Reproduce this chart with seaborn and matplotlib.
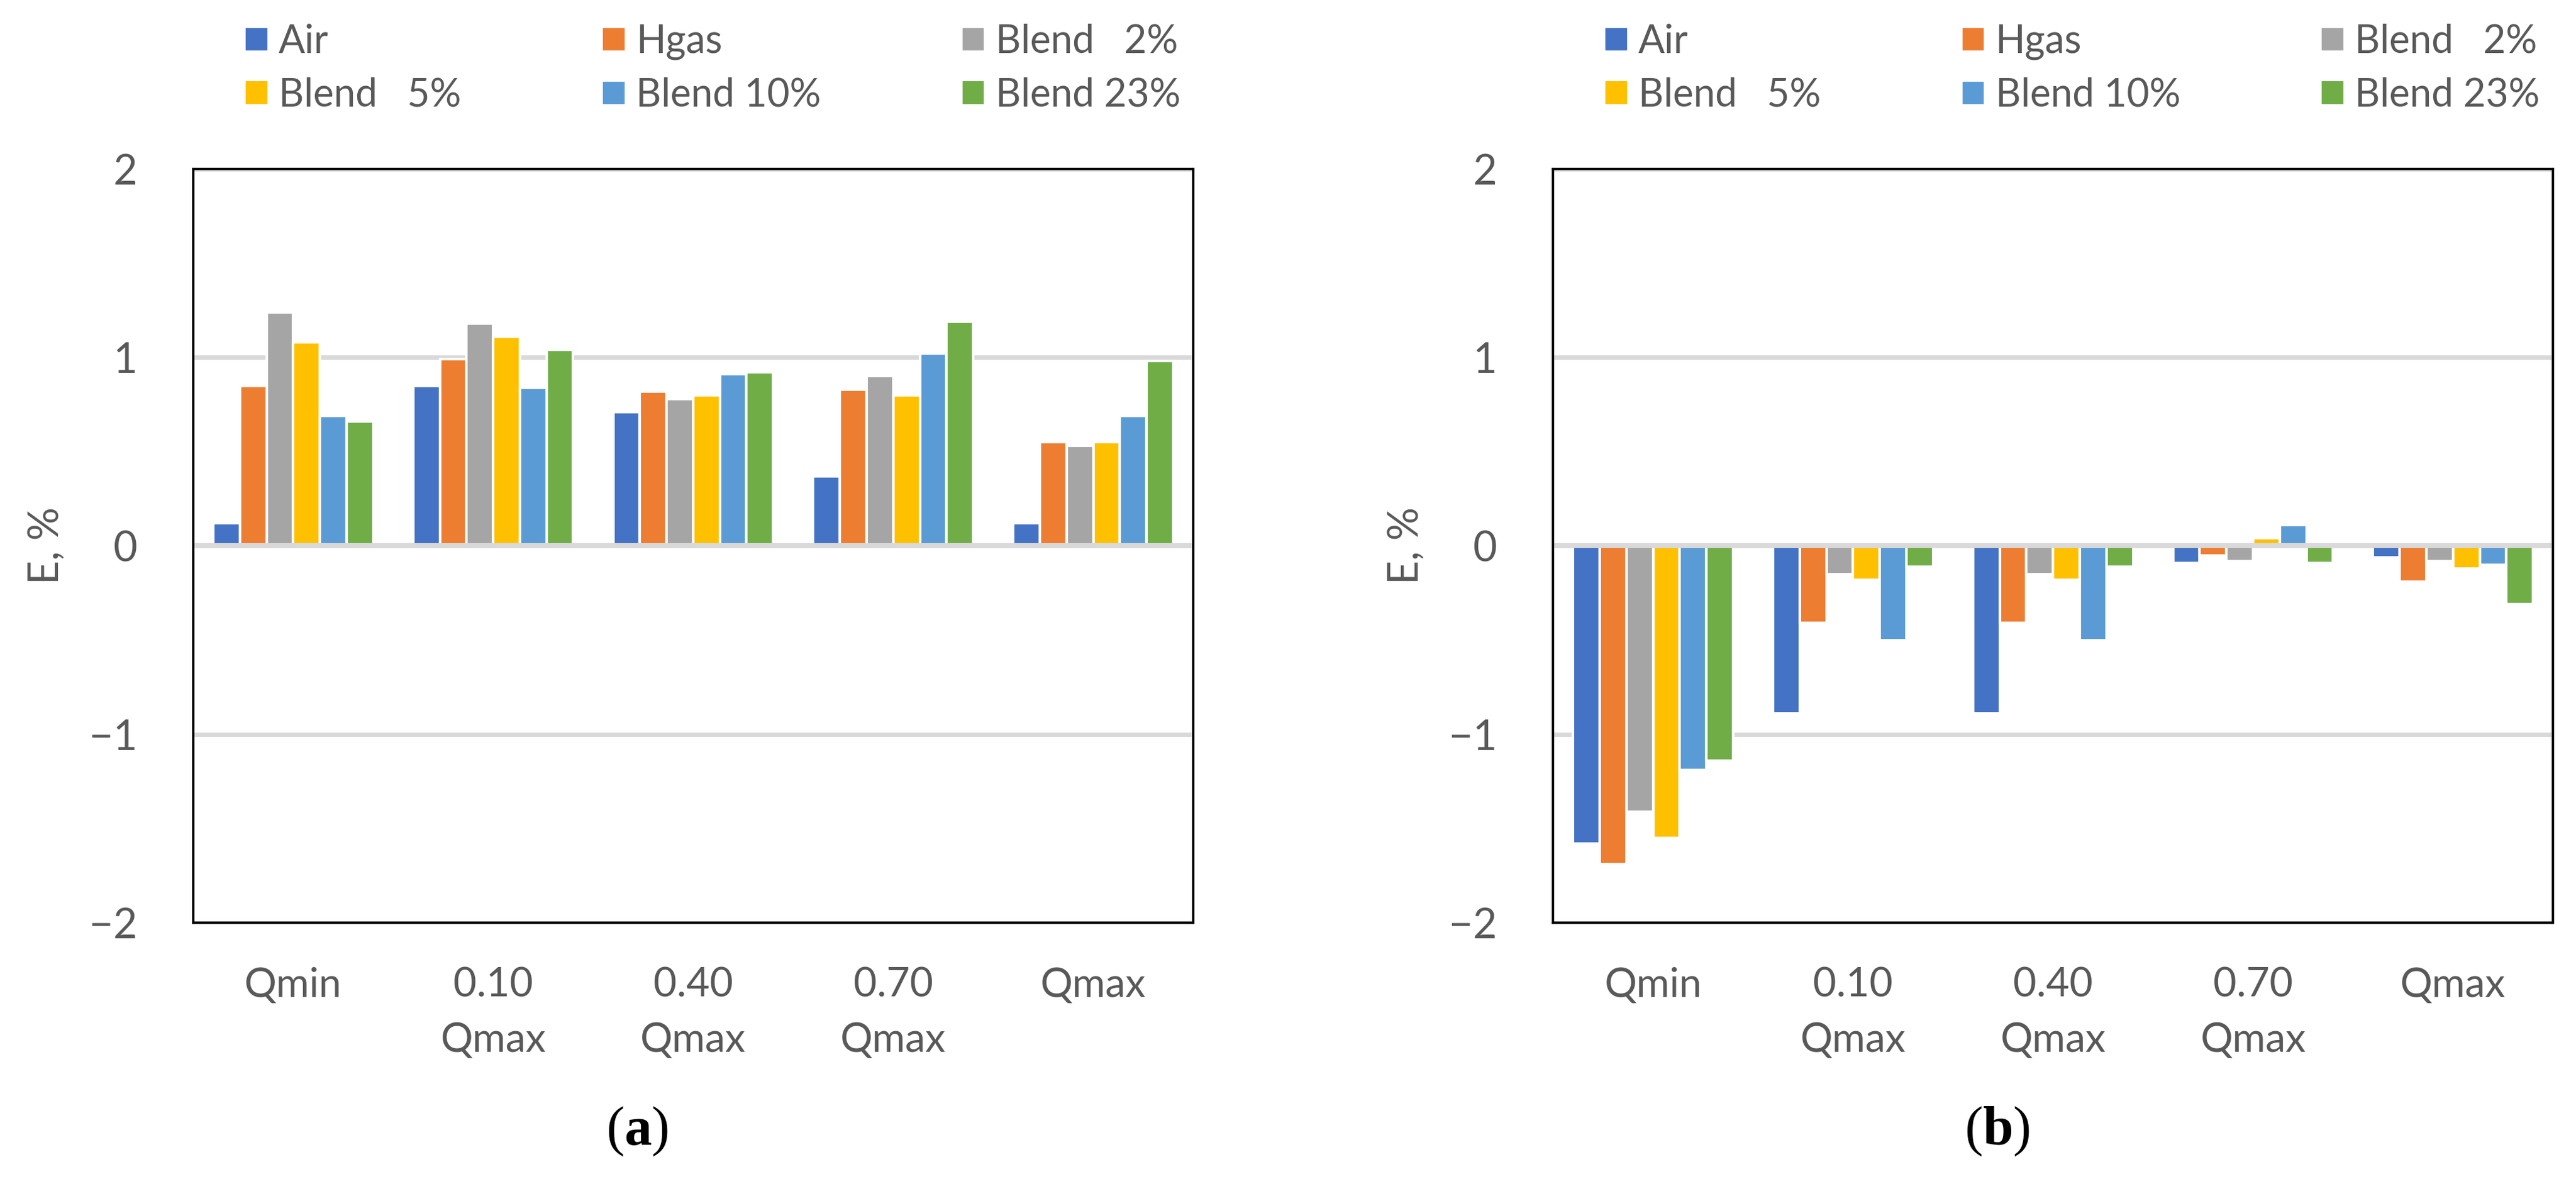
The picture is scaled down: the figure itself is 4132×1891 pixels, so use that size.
import numpy as np
import pandas as pd
import matplotlib.pyplot as plt
import seaborn as sns

# -----------------------------
# Data
# -----------------------------
flow_points = ["Qmin", "0.10\nQmax", "0.40\nQmax", "0.70\nQmax", "Qmax"]
series = ["Air", "Hgas", "Blend   2%", "Blend   5%", "Blend 10%", "Blend 23%"]
colors = ["#4472C4", "#ED7D31", "#A5A5A5", "#FFC000", "#5B9BD5", "#70AD47"]

# panel (a)
air_a = [0.12, 0.85, 0.71, 0.37, 0.12]
hgas_a = [0.85, 0.99, 0.82, 0.83, 0.55]
blend2_a = [1.24, 1.18, 0.78, 0.90, 0.53]
blend5_a = [1.08, 1.11, 0.80, 0.80, 0.55]
blend10_a = [0.69, 0.84, 0.91, 1.02, 0.69]
blend23_a = [0.66, 1.04, 0.92, 1.19, 0.98]

# panel (b)
air_b = [-1.58, -0.89, -0.89, -0.09, -0.06]
hgas_b = [-1.69, -0.41, -0.41, -0.05, -0.19]
blend2_b = [-1.41, -0.15, -0.15, -0.08, -0.08]
blend5_b = [-1.55, -0.18, -0.18, 0.04, -0.12]
blend10_b = [-1.19, -0.50, -0.50, 0.11, -0.10]
blend23_b = [-1.14, -0.11, -0.11, -0.09, -0.31]

y_ticks = [-2, -1, 0, 1, 2]
captions = ["a", "b"]


def to_long(columns):
    rows = []
    for name, values in zip(series, columns):
        for point, v in zip(flow_points, values):
            rows.append({"point": point, "series": name, "E": v})
    return pd.DataFrame(rows)


df_a = to_long([air_a, hgas_a, blend2_a, blend5_a, blend10_a, blend23_a])
df_b = to_long([air_b, hgas_b, blend2_b, blend5_b, blend10_b, blend23_b])

# -----------------------------
# Style
# -----------------------------
sns.set_style("white")
plt.rcParams["font.family"] = ["Lato", "DejaVu Sans"]
plt.rcParams["mathtext.fontset"] = "custom"
plt.rcParams["mathtext.rm"] = "Liberation Serif"
plt.rcParams["mathtext.bf"] = "Liberation Serif:bold"

text_grey = "#595959"
grid_grey = "#D9D9D9"

fig = plt.figure(figsize=(4132 / 300, 1891 / 300))

panels = [
    (df_a, [0.0750, 0.2174, 0.3882, 0.6393], 0.0949, 0.2473),
    (df_b, [0.6029, 0.2174, 0.3882, 0.6393], 0.6227, 0.7752),
]

# legend is filled column by column, so reorder to read row by row
leg_order = [0, 3, 1, 4, 2, 5]

for (df, rect, leg_x, cap_x), cap in zip(panels, captions):
    ax = fig.add_axes(rect)
    sns.barplot(
        data=df, x="point", y="E", hue="series",
        order=flow_points, hue_order=series,
        palette=colors, width=0.8, saturation=1,
        errorbar=None, ax=ax,
    )

    ax.set_ylim(-2, 2)
    ax.set_yticks(y_ticks)
    ax.set_xlabel("")
    ax.set_ylabel("E, %", fontsize=16, color=text_grey, labelpad=9)

    ax.set_axisbelow(True)
    ax.yaxis.grid(True, color=grid_grey, linewidth=1.7)
    ax.axhline(0, color=grid_grey, linewidth=1.9, zorder=5)

    for s in ax.spines.values():
        s.set_visible(True)
        s.set_color("black")
        s.set_linewidth(0.9)
        s.set_zorder(6)

    ax.tick_params(axis="x", length=0, pad=17, labelsize=15.5, labelcolor=text_grey)
    ax.tick_params(axis="y", length=0, pad=21.5, labelsize=16, labelcolor=text_grey)
    for lab in ax.get_xticklabels():
        lab.set_linespacing(1.6)

    handles, labels = ax.get_legend_handles_labels()
    ax.legend(
        [handles[i] for i in leg_order], [labels[i] for i in leg_order],
        ncol=3, frameon=False,
        loc="upper left", bbox_to_anchor=(leg_x, 0.980),
        bbox_transform=fig.transFigure,
        borderaxespad=0, borderpad=0,
        handlelength=0.62, handleheight=0.62, handletextpad=0.26,
        columnspacing=3.6, labelspacing=0.44,
        prop={"size": 15}, labelcolor=text_grey,
    )

    fig.text(cap_x, 0.0402, r"($\mathbf{" + cap + r"}$)",
             family="Liberation Serif", fontsize=21, color="black",
             ha="center", va="center")

fig.savefig("out.png", dpi=300)
